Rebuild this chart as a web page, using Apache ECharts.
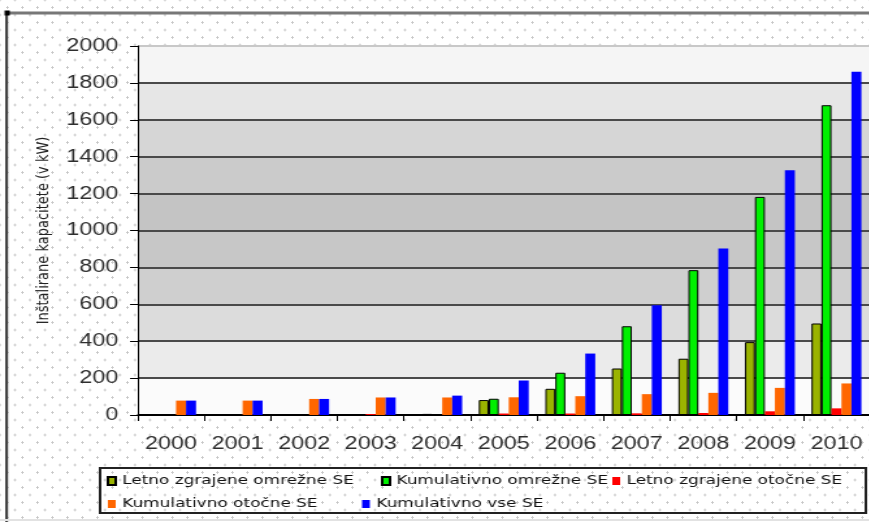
<!DOCTYPE html>
<html>
<head>
<meta charset="utf-8">
<title>Inštalirane kapacitete SE</title>
<script src="https://cdn.jsdelivr.net/npm/echarts@6/dist/echarts.min.js"></script>
<style>
  html, body { margin: 0; padding: 0; background: #fff; }
  #wrap {
    position: relative; width: 869px; height: 522px; overflow: hidden;
    background-color: #fff;
    background-image:
      radial-gradient(circle, #c6c6c6 0.9px, transparent 1.4px),
      radial-gradient(circle, #c6c6c6 0.9px, transparent 1.4px);
    background-size: 15px 15px, 15px 15px;
    background-position: 0 0, 7.5px 7.5px;
  }
  /* the chart is laid out narrow and widened, giving the broad lettering */
  #chart {
    position: absolute; left: 0; top: 0; width: 669px; height: 522px;
    transform: scaleX(1.3); transform-origin: 0 0;
  }
</style>
</head>
<body>
<div id="wrap"><div id="chart"></div></div>
<script>
// Years on the category axis
const years = ['2000', '2001', '2002', '2003', '2004', '2005', '2006', '2007', '2008', '2009', '2010'];

// Installed capacity in kW
const letnoOmrezne   = [0, 0, 0, 0, 5, 81, 142, 252, 305, 395, 496];
const kumulOmrezne   = [0, 0, 0, 0, 6, 88, 229, 481, 785, 1182, 1679];
const letnoOtocne    = [0, 0, 0, 5, 0, 8, 8, 9, 11, 20, 36];
const kumulOtocne    = [78, 78, 87, 95, 95, 96, 102, 113, 120, 147, 171];
const kumulVse       = [78, 78, 87, 95, 105, 187, 333, 595, 902, 1327, 1860];

// Value axis ticks
const yMin = 0, yMax = 2000, yStep = 200;

const seriesNames = [
  'Letno zgrajene omrežne SE',
  'Kumulativno omrežne SE',
  'Letno zgrajene otočne SE',
  'Kumulativno otočne SE',
  'Kumulativno vse SE'
];
const seriesData = [letnoOmrezne, kumulOmrezne, letnoOtocne, kumulOtocne, kumulVse];
const seriesColors = ['#9ab300', '#00f000', '#ff0000', '#ff6600', '#0000ff'];
const outlined = [true, true, false, false, false];

const chart = echarts.init(document.getElementById('chart'), null, { renderer: 'canvas' });

const legendSpots = [
  { left: 82, top: 473 },
  { left: 293, top: 473 },
  { left: 471, top: 473 },
  { left: 83, top: 496 },
  { left: 278.5, top: 496 }
];

const option = {
  animation: false,
  backgroundColor: 'transparent',
  grid: { left: 106, top: 46, width: 564, height: 369, containLabel: false },
  legend: seriesNames.map((n, i) => ({
    data: [n],
    left: legendSpots[i].left,
    top: legendSpots[i].top,
    padding: 0,
    icon: 'rect',
    itemWidth: 6,
    itemHeight: 8,
    textStyle: { fontFamily: 'DejaVu Sans', fontSize: 13, color: '#111', lineHeight: 16 }
  })),
  xAxis: {
    type: 'category',
    data: years,
    axisLine: { lineStyle: { color: '#000', width: 1.5 } },
    axisTick: { show: true, length: 6, lineStyle: { color: '#000', width: 1 } },
    axisLabel: { interval: 0, margin: 20, fontFamily: 'Liberation Sans', fontSize: 18, color: '#2e2e2e' },
    splitLine: { show: false }
  },
  yAxis: {
    type: 'value',
    min: yMin, max: yMax, interval: yStep,
    name: 'Inštalirane kapacitete (v kW)',
    nameLocation: 'middle',
    nameGap: 64,
    nameTextStyle: { fontFamily: 'DejaVu Sans', fontSize: 13, color: '#222' },
    axisLine: { show: true, lineStyle: { color: '#000', width: 1 } },
    axisTick: { show: true, length: 6, lineStyle: { color: '#000', width: 1 } },
    axisLabel: {
      margin: 15, fontFamily: 'Liberation Sans', fontSize: 18, color: '#2e2e2e',
      formatter: v => String(v)
    },
    splitLine: {
      show: true,
      lineStyle: {
        width: 2,
        color: ['#000', '#4a4a4a', '#4a4a4a', '#4a4a4a', '#4a4a4a', '#4a4a4a',
                '#4a4a4a', '#4a4a4a', '#4a4a4a', '#4a4a4a', '#c8c8c8']
      }
    },
    splitArea: {
      show: true,
      areaStyle: {
        color: ['#fbfbfb', '#ebebeb', '#dcdcdc', '#cfcfcf', '#c7c7c7',
                '#c4c4c4', '#cbcbcb', '#d6d6d6', '#e6e6e6', '#f5f5f5']
      }
    }
  },
  series: seriesNames.map((n, i) => ({
    name: n,
    type: 'bar',
    data: seriesData[i],
    barGap: '0%',
    barCategoryGap: '25%',
    itemStyle: {
      color: seriesColors[i],
      borderColor: outlined[i] ? '#000' : seriesColors[i],
      borderWidth: outlined[i] ? 1 : 0
    }
  })),
  graphic: [
    { type: 'rect', shape: { x: 4, y: 11.5, width: 670, height: 3 }, style: { fill: '#777' }, silent: true },
    { type: 'rect', shape: { x: 4, y: 11.5, width: 2.2, height: 512 }, style: { fill: '#444' }, silent: true },
    { type: 'rect', shape: { x: 3.5, y: 10.5, width: 4, height: 5 }, style: { fill: '#000' }, silent: true },
    { type: 'rect', shape: { x: 0, y: 519, width: 670, height: 2 }, style: { fill: '#e2e2e2' }, silent: true },
    { type: 'rect', shape: { x: 77, y: 468, width: 589, height: 45 },
      style: { fill: 'none', stroke: '#222', lineWidth: 2 }, silent: true }
  ]
};

chart.setOption(option);
</script>
</body>
</html>
